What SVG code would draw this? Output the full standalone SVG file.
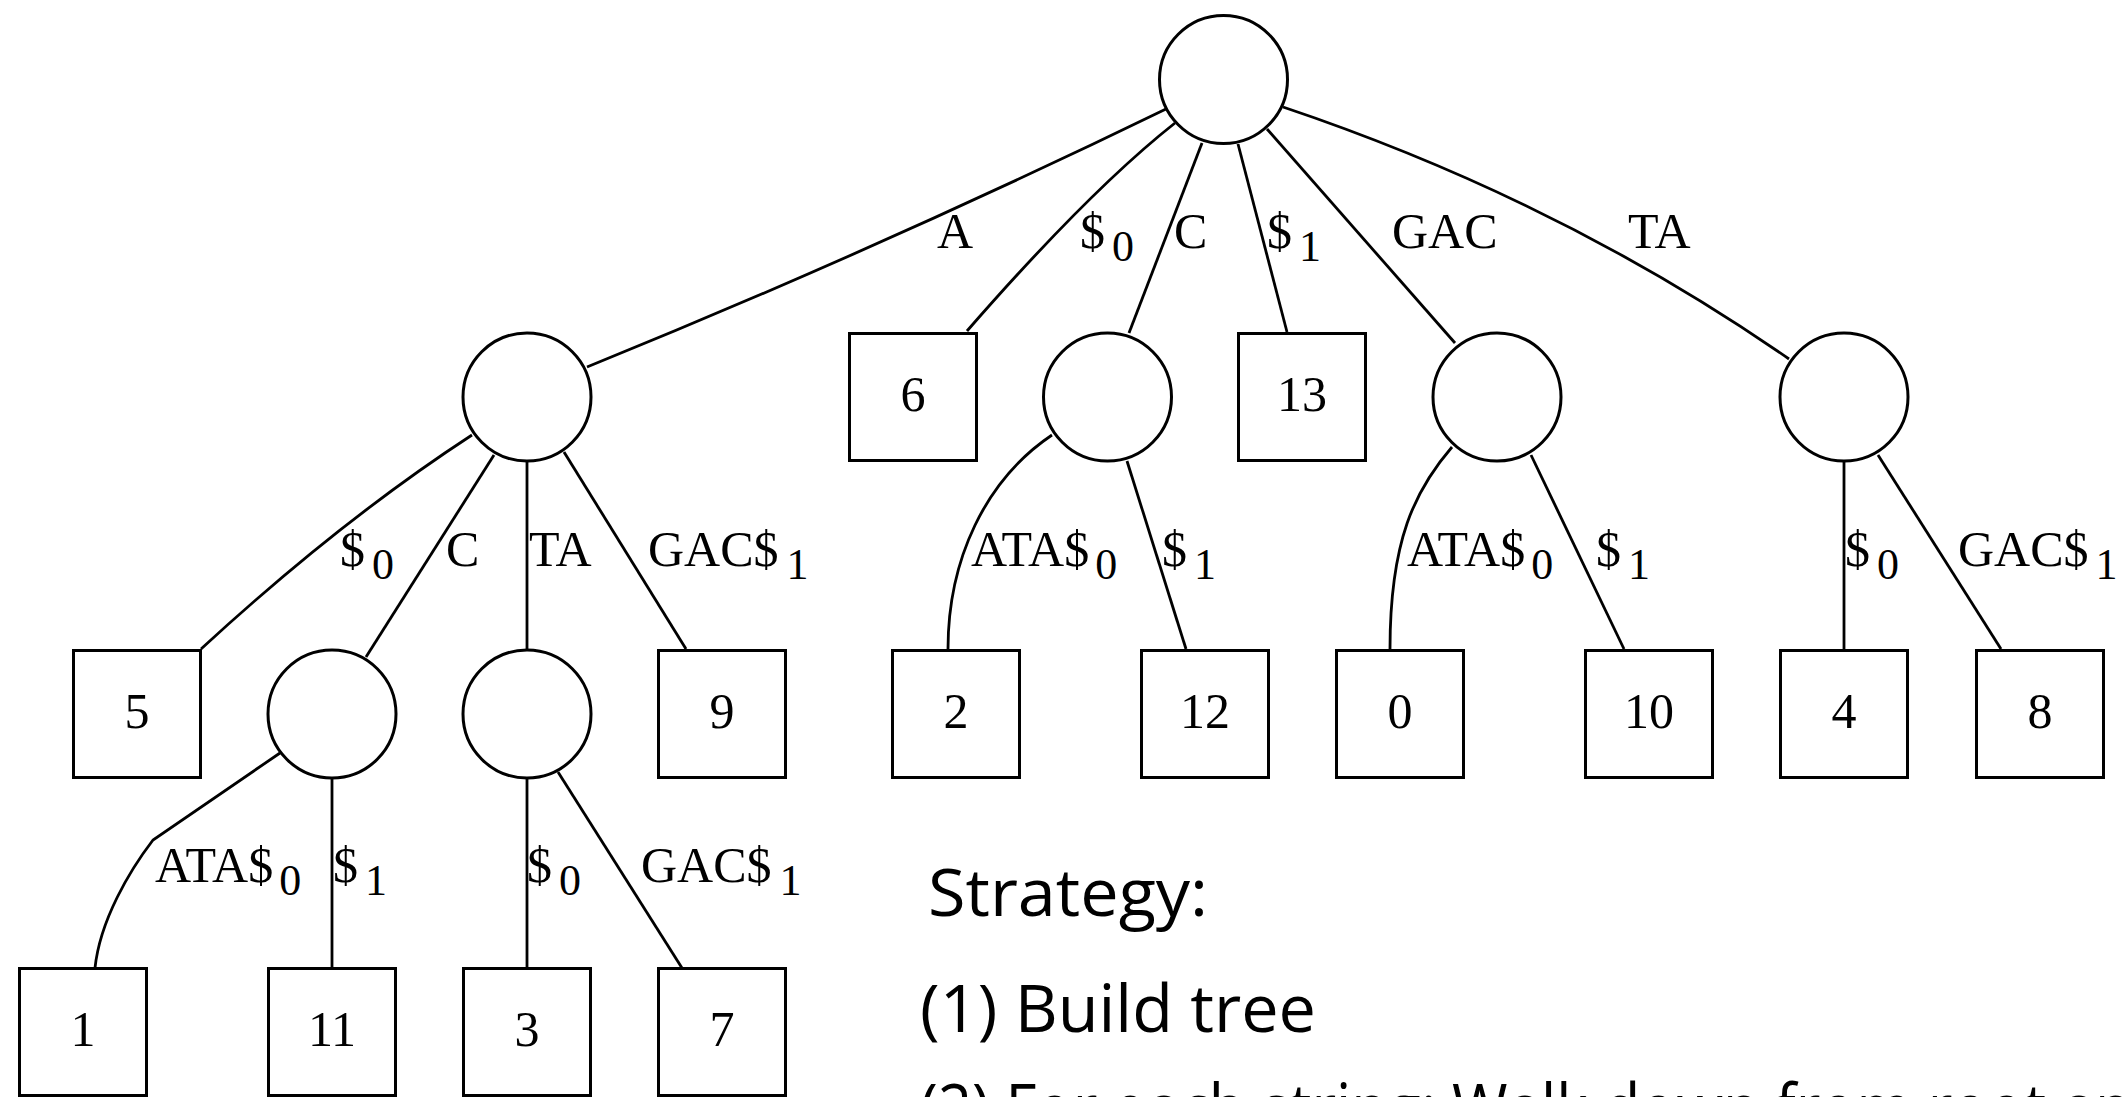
<svg xmlns="http://www.w3.org/2000/svg" width="2123" height="1097" viewBox="0 0 2123 1097">
<style>
  .bg{fill:#ffffff}
  .n circle,.n rect{fill:#ffffff;stroke:#000000;stroke-width:3}
  .e path{fill:none;stroke:#000000;stroke-width:2.8}
  .l{font-family:"Liberation Serif","Times New Roman",serif;font-size:50px;fill:#000000}
  .s{font-size:44px}
  .num{font-family:"Liberation Serif","Times New Roman",serif;font-size:50px;fill:#000000;text-anchor:middle}
  .txt{font-family:"Open Sans","Noto Sans",sans-serif;font-size:65px;fill:#000000}
</style>
<rect class="bg" x="0" y="0" width="2123" height="1097"/>

<g id="connectors" class="e">
  <g id="e-root-A"><path d="M1166,109 Q878,249 587,367"/><text class="l" x="937" y="248">A</text></g>
  <g id="e-root-6"><path d="M1175,123 Q1090,190 967,331"/><text class="l" x="1080" y="248">$<tspan class="s" dx="7" dy="13">0</tspan></text></g>
  <g id="e-root-C"><path d="M1202,143 L1129,333"/><text class="l" x="1174" y="248">C</text></g>
  <g id="e-root-13"><path d="M1238,144 L1287,332"/><text class="l" x="1267" y="248">$<tspan class="s" dx="7" dy="13">1</tspan></text></g>
  <g id="e-root-GAC"><path d="M1267,129 L1455,343"/><text class="l" x="1392" y="248">GAC</text></g>
  <g id="e-root-TA"><path d="M1283,107 Q1560,200 1789,359"/><text class="l" x="1628" y="248">TA</text></g>

  <g id="e-A-5"><path d="M472,435 Q340,521 201,649"/><text class="l" x="340" y="566">$<tspan class="s" dx="7" dy="13">0</tspan></text></g>
  <g id="e-A-AC"><path d="M494,455 L366,657"/><text class="l" x="446" y="566">C</text></g>
  <g id="e-A-ATA"><path d="M527,462 L527,650"/><text class="l" x="529" y="566">TA</text></g>
  <g id="e-A-9"><path d="M564,452 L686,649"/><text class="l" x="648" y="566">GAC$<tspan class="s" dx="8" dy="13">1</tspan></text></g>

  <g id="e-C-2"><path d="M1052,435 C985,480 948,560 948,649"/><text class="l" x="971" y="566">ATA$<tspan class="s" dx="6" dy="13">0</tspan></text></g>
  <g id="e-C-12"><path d="M1127,461 L1186,649"/><text class="l" x="1162" y="566">$<tspan class="s" dx="7" dy="13">1</tspan></text></g>

  <g id="e-GAC-0"><path d="M1452,447 C1415,490 1390,540 1390,649"/><text class="l" x="1407" y="566">ATA$<tspan class="s" dx="6" dy="13">0</tspan></text></g>
  <g id="e-GAC-10"><path d="M1531,455 L1624,649"/><text class="l" x="1596" y="566">$<tspan class="s" dx="7" dy="13">1</tspan></text></g>

  <g id="e-TA-4"><path d="M1844,462 L1844,650"/><text class="l" x="1845" y="566">$<tspan class="s" dx="7" dy="13">0</tspan></text></g>
  <g id="e-TA-8"><path d="M1878,455 L2001,649"/><text class="l" x="1958" y="566">GAC$<tspan class="s" dx="7" dy="13">1</tspan></text></g>

  <g id="e-AC-1"><path d="M280,753 L153,840 C130,870 100,920 95,968"/><text class="l" x="155" y="882">ATA$<tspan class="s" dx="6" dy="13">0</tspan></text></g>
  <g id="e-AC-11"><path d="M332,779 L332,968"/><text class="l" x="333" y="882">$<tspan class="s" dx="7" dy="13">1</tspan></text></g>
  <g id="e-ATA-3"><path d="M527,779 L527,968"/><text class="l" x="527" y="882">$<tspan class="s" dx="7" dy="13">0</tspan></text></g>
  <g id="e-ATA-7"><path d="M558,772 L682,968"/><text class="l" x="641" y="882">GAC$<tspan class="s" dx="8" dy="13">1</tspan></text></g>
</g>

<g id="nodes" class="n">
  <g id="root"><circle cx="1223.5" cy="79.5" r="64"/></g>
  <g id="nA"><circle cx="527" cy="397" r="64"/></g>
  <g id="n6"><rect x="849.5" y="333.5" width="127" height="127"/><text class="num" x="913" y="411">6</text></g>
  <g id="nC"><circle cx="1107.5" cy="397" r="64"/></g>
  <g id="n13"><rect x="1238.5" y="333.5" width="127" height="127"/><text class="num" x="1302" y="411">13</text></g>
  <g id="nGAC"><circle cx="1497" cy="397" r="64"/></g>
  <g id="nTA"><circle cx="1844" cy="397" r="64"/></g>

  <g id="n5"><rect x="73.5" y="650.5" width="127" height="127"/><text class="num" x="137" y="728">5</text></g>
  <g id="nAC"><circle cx="332" cy="714" r="64"/></g>
  <g id="nATA"><circle cx="527" cy="714" r="64"/></g>
  <g id="n9"><rect x="658.5" y="650.5" width="127" height="127"/><text class="num" x="722" y="728">9</text></g>
  <g id="n2"><rect x="892.5" y="650.5" width="127" height="127"/><text class="num" x="956" y="728">2</text></g>
  <g id="n12"><rect x="1141.5" y="650.5" width="127" height="127"/><text class="num" x="1205" y="728">12</text></g>
  <g id="n0"><rect x="1336.5" y="650.5" width="127" height="127"/><text class="num" x="1400" y="728">0</text></g>
  <g id="n10"><rect x="1585.5" y="650.5" width="127" height="127"/><text class="num" x="1649" y="728">10</text></g>
  <g id="n4"><rect x="1780.5" y="650.5" width="127" height="127"/><text class="num" x="1844" y="728">4</text></g>
  <g id="n8"><rect x="1976.5" y="650.5" width="127" height="127"/><text class="num" x="2040" y="728">8</text></g>

  <g id="n1"><rect x="19.5" y="968.5" width="127" height="127"/><text class="num" x="83" y="1046">1</text></g>
  <g id="n11"><rect x="268.5" y="968.5" width="127" height="127"/><text class="num" x="332" y="1046">11</text></g>
  <g id="n3"><rect x="463.5" y="968.5" width="127" height="127"/><text class="num" x="527" y="1046">3</text></g>
  <g id="n7"><rect x="658.5" y="968.5" width="127" height="127"/><text class="num" x="722" y="1046">7</text></g>
</g>

<g id="strategy">
  <text class="txt" x="928" y="916" textLength="280" lengthAdjust="spacingAndGlyphs">Strategy:</text>
  <text class="txt" x="920" y="1032" textLength="396" lengthAdjust="spacingAndGlyphs">(1) Build tree</text>
  <text class="txt" x="920" y="1131" textLength="1212" lengthAdjust="spacingAndGlyphs">(2) For each string: Walk down from root an</text>
</g>
</svg>
